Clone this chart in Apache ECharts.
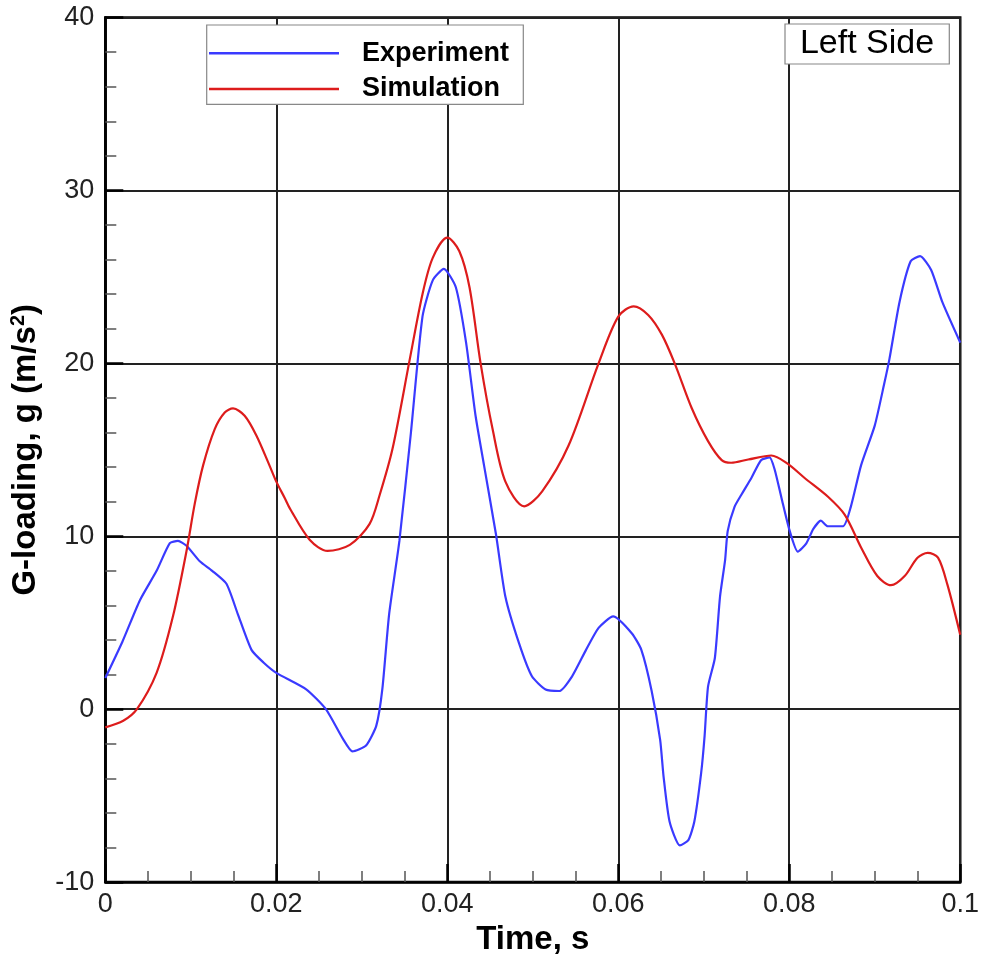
<!DOCTYPE html>
<html>
<head>
<meta charset="utf-8">
<script src="https://cdn.jsdelivr.net/npm/echarts@6/dist/echarts.min.js"></script>
<style>
html,body{margin:0;padding:0;background:#fff;}
#chart{width:982px;height:961px;}
</style>
</head>
<body>
<div id="chart"></div>
<script>
// ---- data ----
const xTicks = [0, 0.02, 0.04, 0.06, 0.08, 0.1];
const yTicks = [-10, 0, 10, 20, 30, 40];

const timeExp = [0, 0.002, 0.00405, 0.006, 0.00755, 0.0085, 0.0095, 0.01105, 0.0125, 0.01417,
  0.0155, 0.0171, 0.0185, 0.02, 0.0235, 0.0258, 0.0278, 0.0289, 0.0305, 0.0317,
  0.0324, 0.0332, 0.0344, 0.03575, 0.0371, 0.0383, 0.0396, 0.041, 0.0422, 0.0433,
  0.0443, 0.0457, 0.0468, 0.0484, 0.0499, 0.0515, 0.0531, 0.0546, 0.0562, 0.0577,
  0.0594, 0.0616, 0.0627, 0.0639, 0.0649, 0.0653, 0.066, 0.0672, 0.0682, 0.0689,
  0.0697, 0.0701, 0.0705, 0.0713, 0.0719, 0.0725, 0.0728, 0.0736, 0.0744, 0.0756,
  0.0767, 0.0777, 0.0783, 0.0791, 0.08, 0.081, 0.082, 0.0828, 0.0837, 0.0845,
  0.0863, 0.0872, 0.0884, 0.09, 0.0911, 0.0917, 0.0929, 0.0942, 0.0953, 0.0966,
  0.0979, 0.1];
const gExp = [1.8, 3.9, 6.3, 8.0, 9.6, 9.73, 9.45, 8.55, 8.0, 7.25,
  5.5, 3.43, 2.7, 2.1, 1.15, 0.0, -1.72, -2.44, -2.1, -0.95,
  1.14, 5.5, 9.73, 16.0, 22.7, 24.8, 25.46, 24.4, 21.2, 17.0,
  14.1, 10.1, 6.5, 3.8, 1.9, 1.14, 1.05, 1.9, 3.4, 4.7,
  5.37, 4.38, 3.43, 1.07, -1.78, -3.9, -6.5, -7.88, -7.57, -6.5,
  -3.67, -1.54, 1.3, 2.96, 6.5, 8.64, 10.3, 11.7, 12.4, 13.4,
  14.4, 14.56, 13.85, 12.2, 10.4, 9.11, 9.59, 10.41, 10.9, 10.58,
  10.58, 11.7, 14.1, 16.4, 18.8, 20.2, 23.55, 25.9, 26.2, 25.4,
  23.55, 21.2];

const timeSim = [0, 0.0021, 0.0037, 0.006, 0.0079, 0.0095, 0.01047, 0.01144, 0.0128, 0.01397,
  0.01494, 0.0163, 0.01767, 0.0192, 0.02, 0.021, 0.0216, 0.0239, 0.026, 0.0286,
  0.0309, 0.0321, 0.0336, 0.0356, 0.0371, 0.0383, 0.04, 0.0414, 0.0426, 0.0439,
  0.0453, 0.0468, 0.049, 0.0511, 0.0542, 0.0577, 0.06, 0.0618, 0.0635, 0.0651,
  0.0666, 0.0686, 0.0705, 0.0721, 0.0732, 0.0752, 0.0779, 0.0798, 0.0818, 0.0845,
  0.0865, 0.0884, 0.0903, 0.0919, 0.0935, 0.095, 0.0962, 0.0974, 0.0985, 0.1];
const gSim = [-1.05, -0.67, 0, 2.1, 5.34, 9.15, 11.9, 14.1, 16.2, 17.16,
  17.39, 16.97, 15.83, 14.1, 13.16, 12.2, 11.6, 9.8, 9.15, 9.5,
  10.7, 12.4, 15.07, 20.2, 24.0, 26.1, 27.27, 26.5, 24.4, 20.0,
  16.2, 13.16, 11.73, 12.6, 15.26, 20.0, 22.7, 23.3, 22.8, 21.66,
  20.0, 17.4, 15.5, 14.4, 14.25, 14.44, 14.67, 14.2, 13.37, 12.3,
  11.24, 9.35, 7.7, 7.17, 7.7, 8.76, 9.04, 8.76, 7.2, 4.3];

const seriesNames = ['Experiment', 'Simulation'];

// ---- chart ----
const zip = (a, b) => a.map((t, i) => [t, b[i]]);
const FONT = '"Liberation Sans", Arial, Helvetica, sans-serif';

const chart = echarts.init(document.getElementById('chart'), null, {renderer: 'canvas'});
chart.setOption({
  animation: false,
  backgroundColor: '#ffffff',
  grid: {
    left: 105.3, right: 19.3, top: 17.5, bottom: 69.5,
    show: true, borderColor: '#000', borderWidth: 2.5, backgroundColor: 'transparent'
  },
  xAxis: {
    type: 'value',
    min: xTicks[0], max: xTicks[xTicks.length - 1], interval: 0.02,
    name: 'Time, s',
    nameLocation: 'middle',
    nameGap: 34,
    nameTextStyle: {fontFamily: FONT, fontWeight: 'bold', fontSize: 33, color: '#000'},
    axisLine: {show: true, onZero: false, lineStyle: {color: '#000', width: 2.5}},
    axisTick: {show: true, inside: true, length: 18, lineStyle: {color: '#000', width: 2.5}},
    minorTick: {show: true, splitNumber: 4, length: 11, lineStyle: {color: '#555', width: 1.5}},
    splitLine: {show: true, lineStyle: {color: '#222', width: 2}},
    axisLabel: {
      fontFamily: FONT, fontSize: 27, color: '#222', margin: 9,
      formatter: v => String(+v.toFixed(3))
    }
  },
  yAxis: {
    type: 'value',
    min: yTicks[0], max: yTicks[yTicks.length - 1], interval: 10,
    name: 'G-loading, g (m/s{sup|2})',
    nameLocation: 'middle',
    nameRotate: 90,
    nameGap: 52,
    nameTextStyle: {
      fontFamily: FONT, fontWeight: 'bold', fontSize: 33, color: '#000', lineHeight: 36,
      rich: {sup: {fontFamily: FONT, fontWeight: 'bold', fontSize: 20, color: '#000', verticalAlign: 'top', lineHeight: 36, padding: [0, 0, 14, 0]}}
    },
    axisLine: {show: true, onZero: false, lineStyle: {color: '#000', width: 2.5}},
    axisTick: {show: true, inside: true, length: 18, lineStyle: {color: '#000', width: 2.5}},
    minorTick: {show: true, splitNumber: 5, length: 11, lineStyle: {color: '#555', width: 1.5}},
    splitLine: {show: true, lineStyle: {color: '#222', width: 2}},
    axisLabel: {fontFamily: FONT, fontSize: 27, color: '#222', margin: 11}
  },
  legend: {
    show: true,
    orient: 'vertical',
    left: 209, top: 38.3,
    padding: 0,
    icon: 'rect',
    itemWidth: 130, itemHeight: 2.5, itemGap: 5.7,
    z: 10,
    textStyle: {fontFamily: FONT, fontWeight: 'bold', fontSize: 27, color: '#000', lineHeight: 30, padding: [0, 0, 0, 18]},
    data: seriesNames
  },
  graphic: [
    {type: 'rect', z: 8, shape: {x: 206.7, y: 25, width: 316.6, height: 79.3},
     style: {fill: '#fff', stroke: '#888', lineWidth: 1.2}},
    {type: 'rect', z: 8, shape: {x: 785, y: 24, width: 164.3, height: 40},
     style: {fill: '#fff', stroke: '#888', lineWidth: 1.2}},
    {type: 'text', z: 9, x: 867, y: 44,
     style: {text: 'Left Side', fontFamily: FONT, fontSize: 34, fill: '#000', textAlign: 'center', textVerticalAlign: 'middle'}}
  ],
  series: [
    {name: seriesNames[0], type: 'line', data: zip(timeExp, gExp), symbol: 'none', smooth: 0.2,
     lineStyle: {color: '#3a3aff', width: 2.2}, itemStyle: {color: '#3a3aff'}, z: 3},
    {name: seriesNames[1], type: 'line', data: zip(timeSim, gSim), symbol: 'none', smooth: 0.3,
     lineStyle: {color: '#dd1c1c', width: 2.2}, itemStyle: {color: '#dd1c1c'}, z: 3}
  ]
});
</script>
</body>
</html>
